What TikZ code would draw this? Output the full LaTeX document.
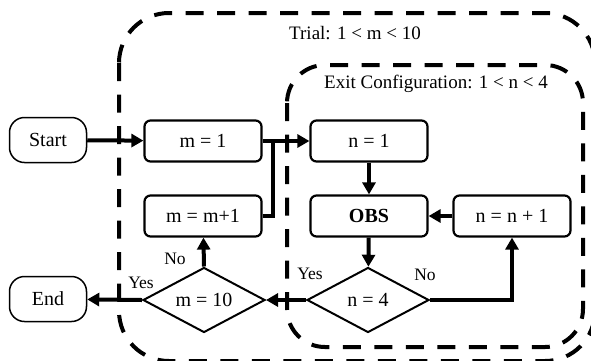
\documentclass[tikz,border=0pt]{standalone}
\usepackage{fontspec}
\setmainfont{Liberation Serif}
\usetikzlibrary{arrows.meta,shapes.geometric}

\begin{document}
\begin{tikzpicture}[x=1pt,y=-1pt,
  txt/.style={font=\fontsize{20}{23}\selectfont},
  lab/.style={font=\fontsize{17.5}{20}\selectfont, inner sep=0pt},
  ttl/.style={font=\fontsize{19}{22}\selectfont, inner sep=0pt},
  box/.style={txt, draw, line width=2.2pt, rounded corners=6pt,
    minimum width=117pt, minimum height=41pt, inner sep=0pt},
  term/.style={txt, draw, line width=1.5pt, rounded corners=15pt,
    minimum width=77pt, minimum height=45pt, inner sep=0pt},
  decision/.style={txt, draw, diamond, line width=2pt, aspect=1.87,
    minimum width=122pt, minimum height=65pt, inner sep=0pt},
  flow/.style={line width=4pt, -{Triangle[length=12pt,width=13pt]}},
  link/.style={line width=4pt},
  region/.style={line width=4pt, dash pattern=on 18pt off 13.5pt}]

\useasboundingbox (0,0) rectangle (591,360);

% nested loop regions
\draw[region, rounded corners=50pt] (119,13) rectangle (595,361);
\draw[region, rounded corners=38pt] (287,65) rectangle (583,347);
\node[ttl] (trial) at (355,33) {Trial: 1 < m < 10};
\node[ttl] (exitcfg) at (436,84) {Exit Configuration: 1 < n < 4};

% steps
\node[term] (start) at (48,140) {Start};
\node[box] (m1) at (203,141) {m = 1};
\node[box] (n1) at (369,141) {n = 1};
\node[box] (obs) at (369,216) {\textbf{OBS}};
\node[box] (ninc) at (512,216) {n = n + 1};
\node[box] (minc) at (203,216) {m = m+1};
\node[decision] (n4) at (368,300) {n = 4};
\node[decision] (m10) at (204,300) {m = 10};
\node[term] (end) at (48,299) {End};

% connectors
\coordinate (join) at (273,141);
\draw[flow] (start) -- (m1);
\draw[flow] (m1) -- (n1);
\draw[link] (minc.east) -| (join);
\draw[flow] (n1) -- (obs);
\draw[flow] (obs) -- (n4);
\draw[flow] (n4.east) -| (ninc.south);
\draw[flow] (ninc) -- (obs);
\draw[flow] (n4.west) -- (m10.east);
\draw[flow] (m10.west) -- (end);
\draw[flow] (m10.north) -- (minc);

% branch labels
\node[lab] (yesn) at (310,274) {Yes};
\node[lab] (non) at (425,275) {No};
\node[lab] (yesm) at (141,283) {Yes};
\node[lab] (nom) at (175,259) {No};
\end{tikzpicture}
\end{document}
